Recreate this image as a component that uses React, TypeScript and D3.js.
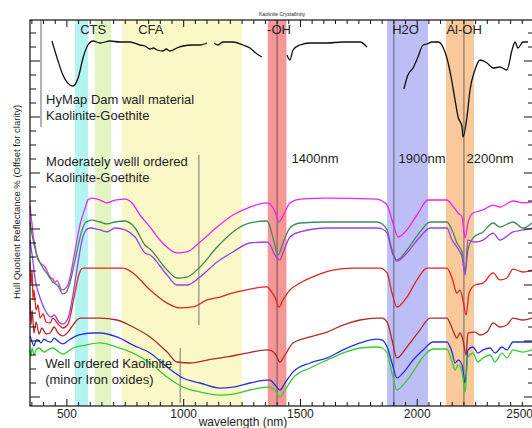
import React from 'react'
import * as d3 from 'd3'

// spectra: [wavelength nm, hull quotient (offset units)]
const magenta = [[342,13.7],[346,13.0],[351,12.3],[355,11.6],[363,10.9],[372,10.0],[385,9.6],[406,9.3],[428,8.57],[440,8.43],[449,8.2],[458,8.3],[479,7.64],[500,7.86],[513,8.5],[526,9.64],[543,11.2],[556,12.3],[578,13.5],[590,14.07],[607,14.2],[642,14.07],[672,13.86],[706,14.07],[749,14.14],[779,13.86],[813,13.0],[856,12.14],[899,11.2],[929,10.7],[971,10.29],[1014,10.36],[1070,11.07],[1143,12.14],[1211,13.0],[1284,13.57],[1357,13.86],[1378,13.64],[1395,13.07],[1408,12.5],[1425,12.93],[1455,13.86],[1498,14.14],[1614,14.21],[1828,14.14],[1850,14.0],[1871,13.71],[1896,12.43],[1918,11.43],[1948,11.79],[1999,13.0],[2046,14.07],[2127,14.07],[2149,13.71],[2175,13.14],[2192,12.86],[2205,11.36],[2217,12.43],[2239,13.14],[2282,13.36],[2325,13.71],[2354,13.57],[2410,14.0],[2453,13.86],[2491,13.93]]

const darkGreen = [[342,12.5],[351,11.57],[363,10.64],[376,9.93],[398,9.21],[419,8.71],[440,8.2],[453,8.07],[462,7.93],[483,7.36],[500,7.57],[513,8.14],[526,9.07],[548,10.79],[565,11.93],[582,12.5],[607,12.64],[642,12.5],[672,12.36],[706,12.5],[749,12.57],[792,12.07],[834,10.86],[856,10.57],[929,9.07],[971,8.5],[1014,8.57],[1070,9.29],[1143,10.71],[1211,11.79],[1284,12.43],[1357,12.57],[1382,11.43],[1404,10.14],[1425,11.0],[1455,12.07],[1498,12.43],[1614,12.5],[1828,12.5],[1850,12.36],[1871,11.93],[1892,10.5],[1913,9.79],[1956,10.5],[2012,11.79],[2055,12.5],[2127,12.5],[2149,11.93],[2170,11.0],[2192,10.36],[2205,8.93],[2217,10.5],[2239,11.36],[2282,11.79],[2325,12.43],[2354,12.14],[2410,12.5],[2453,12.07],[2491,12.43]]

const purple = [[342,11.21],[355,9.64],[363,8.5],[381,7.29],[393,6.71],[411,6.07],[432,5.71],[445,5.86],[466,5.36],[483,5.21],[505,5.64],[526,7.29],[539,8.71],[548,9.64],[565,11.21],[582,11.93],[599,12.07],[642,11.93],[672,11.79],[706,12.07],[749,11.93],[792,11.43],[834,10.29],[856,10.14],[929,8.71],[971,8.0],[1014,8.0],[1070,8.57],[1143,9.64],[1211,10.36],[1284,11.0],[1357,11.07],[1370,10.86],[1391,10.14],[1412,9.79],[1425,10.29],[1455,11.43],[1498,11.79],[1614,12.07],[1828,12.07],[1850,12.0],[1871,11.71],[1892,10.36],[1913,9.71],[1956,10.29],[2012,11.43],[2055,12.07],[2127,12.07],[2149,11.21],[2170,10.71],[2192,10.0],[2205,8.71],[2217,11.21],[2247,11.07],[2282,11.21],[2325,11.71],[2354,11.21],[2410,11.79],[2453,11.93],[2491,12.07]]

const red = [[342,9.64],[346,8.0],[351,9.07],[355,6.93],[359,7.64],[368,6.21],[376,6.57],[385,5.64],[398,5.93],[411,5.36],[428,5.29],[440,5.64],[462,5.21],[483,4.93],[505,5.21],[530,7.07],[552,8.79],[569,9.21],[642,9.21],[740,9.21],[783,8.86],[856,7.64],[929,6.71],[984,6.36],[1040,6.43],[1100,6.93],[1156,7.14],[1211,7.43],[1284,7.71],[1357,7.86],[1370,7.64],[1391,7.14],[1408,6.43],[1425,6.93],[1455,7.64],[1498,8.14],[1571,8.71],[1639,9.07],[1725,9.21],[1841,9.21],[1871,8.86],[1892,7.43],[1913,6.43],[1956,7.14],[1999,8.36],[2042,9.21],[2127,9.21],[2149,8.5],[2170,7.43],[2183,7.64],[2196,6.93],[2209,5.86],[2222,7.43],[2247,8.0],[2282,8.14],[2325,8.86],[2354,8.36],[2384,8.5],[2410,9.14],[2453,8.93],[2491,9.07]]

const darkRed = [[342,6.93],[346,5.14],[351,6.21],[359,4.57],[368,5.36],[381,4.5],[393,4.93],[411,4.5],[428,4.57],[445,5.0],[462,4.57],[483,4.36],[505,4.64],[526,5.14],[548,5.57],[560,5.64],[642,5.64],[714,5.5],[783,5.0],[856,4.29],[929,3.21],[971,2.5],[1027,2.43],[1100,2.64],[1185,2.86],[1271,3.14],[1357,3.36],[1378,3.29],[1395,3.0],[1412,2.5],[1434,3.0],[1468,3.86],[1541,4.29],[1614,4.64],[1682,5.14],[1755,5.5],[1828,5.64],[1850,5.64],[1871,5.36],[1892,4.07],[1913,2.79],[1956,3.57],[2012,4.79],[2055,5.64],[2127,5.64],[2149,4.93],[2170,4.21],[2183,4.57],[2196,4.07],[2209,3.0],[2217,4.57],[2247,4.64],[2269,4.43],[2299,4.64],[2325,5.29],[2354,5.0],[2384,5.14],[2410,5.64],[2453,5.5],[2491,5.64]]

const blue = [[342,4.36],[351,3.93],[359,3.64],[368,4.07],[376,4.07],[389,3.86],[402,4.14],[415,4.0],[432,3.93],[445,4.21],[466,3.93],[483,3.79],[509,4.07],[552,4.43],[612,4.57],[642,4.57],[714,4.29],[783,3.71],[856,3.14],[929,2.14],[997,1.36],[1070,1.0],[1156,0.64],[1211,0.71],[1284,1.0],[1357,1.21],[1370,1.21],[1391,0.86],[1412,0.5],[1434,1.0],[1468,1.79],[1541,2.43],[1614,2.79],[1682,3.36],[1755,3.86],[1828,4.14],[1850,4.07],[1871,3.57],[1892,2.43],[1913,1.36],[1939,1.71],[1982,2.64],[2025,3.36],[2068,3.93],[2127,3.93],[2149,3.21],[2162,2.43],[2175,2.64],[2192,2.29],[2205,1.0],[2217,3.36],[2239,3.57],[2260,3.14],[2282,3.36],[2312,3.5],[2333,3.14],[2363,3.57],[2384,3.36],[2410,3.93],[2453,3.93],[2491,3.93]]

const green = [[342,3.36],[346,2.93],[351,3.5],[359,3.0],[368,3.36],[381,3.5],[402,3.21],[419,3.36],[440,3.5],[466,3.21],[483,3.07],[526,3.5],[582,3.71],[642,3.86],[714,3.57],[783,3.14],[856,2.43],[929,1.43],[997,0.71],[1070,0.36],[1156,0.14],[1211,0.21],[1284,0.5],[1357,0.71],[1370,0.71],[1391,0.5],[1412,0.0],[1434,0.5],[1468,1.36],[1541,2.07],[1614,2.64],[1682,3.14],[1755,3.5],[1828,3.57],[1850,3.5],[1871,3.14],[1892,1.71],[1913,0.5],[1939,0.86],[1982,1.79],[2025,2.86],[2068,3.43],[2127,3.43],[2149,2.5],[2162,1.93],[2175,2.29],[2192,1.79],[2205,0.36],[2217,2.86],[2239,3.14],[2260,2.5],[2282,2.79],[2312,3.0],[2333,2.5],[2363,3.14],[2384,2.79],[2410,3.36],[2453,3.21],[2491,3.36]]

const spectra = [
    { name: 'magenta', color: '#ec24ec', values: magenta },
    { name: 'darkGreen', color: '#3f8c55', values: darkGreen },
    { name: 'purple', color: '#9b3fe6', values: purple },
    { name: 'red', color: '#e12424', values: red },
    { name: 'darkRed', color: '#b42828', values: darkRed },
    { name: 'blue', color: '#2434dc', values: blue },
    { name: 'green', color: '#35cc35', values: green },
]

// kaolinite crystallinity inset (own arbitrary scale 0-100), broken into segments
const crystallinity = [
    [[436,99],[458,82],[483,65],[513,55],[526,54],[548,62],[569,82],[590,95],[612,99],[642,97],[684,99],[727,98],[770,98],[813,95],[835,94],[856,91],[870,92],[886,90],[911,89],[925,91],[941,89],[971,92],[997,94],[1040,95],[1070,95],[1100,97]],
    [[1130,97],[1147,95],[1168,98],[1211,98],[1254,95],[1284,92],[1314,86],[1335,83]],
    [[1442,85],[1455,80],[1468,90],[1498,95],[1541,97],[1614,97],[1682,98],[1755,98],[1785,93]],
    [[1943,51],[1960,65],[1982,72],[2003,83],[2025,95],[2042,96],[2063,98],[2089,98],[2110,93],[2127,82],[2145,63],[2162,40],[2175,23],[2192,13],[2196,3],[2213,23],[2226,50],[2247,70],[2269,80],[2299,77],[2325,72],[2354,73],[2384,70],[2406,90],[2419,98],[2431,92],[2453,98],[2474,98]],
]

// absorption feature bands [from, to] nm
const bands = [
    { from: 535, to: 590, color: '#b2f4f1' },
    { from: 620, to: 690, color: '#e4f5c3' },
    { from: 736, to: 1250, color: '#fbf8c7' },
    { from: 1360, to: 1440, color: '#f69696' },
    { from: 1871, to: 2046, color: '#bebef6' },
    { from: 2123, to: 2243, color: '#f9c99b' },
]
const bandLines = [1400, 1900, 2200]
// short marker lines [nm, from value, to value]
const markerLines = [[1065, 17.29, 5.14], [985, 3.5, -0.43]]

const bandLabels = [
    { text: 'CTS', wl: 557 },
    { text: 'CFA', wl: 805 },
    { text: '-OH', wl: 1357 },
    { text: 'H2O', wl: 1893 },
    { text: 'Al-OH', wl: 2125 },
]
const featureLabels = [
    { text: '1400nm', wl: 1462 },
    { text: '1900nm', wl: 1920 },
    { text: '2200nm', wl: 2211 },
]
const notes = [
    { lines: ['HyMap Dam wall material', 'Kaolinite-Goethite'], wl: 411, v: 20.92 },
    { lines: ['Moderately welll ordered', 'Kaolinite-Goethite'], wl: 411, v: 16.5 },
    { lines: ['Well ordered Kaolinite', '(minor Iron oxides)'], wl: 407, v: 2.07 },
]
const xTickLabels = [500, 1000, 1500, 2000, 2500]

const font = "'Liberation Sans', Arial, sans-serif"
const ink = '#1e1e1e'

const App = () => {
    const width = 532
    const height = 428
    const left = 30
    const top = 20
    const bottom = 406

    const x = d3.scaleLinear().domain([342, 2500]).range([left, 534])
    const y = d3.scaleLinear().domain([-9 / 14, 377 / 14]).range([bottom, top])
    const c = d3.scaleLinear().domain([0, 100]).range([140, 40])

    const line = d3.line().x(d => x(d[0])).y(d => y(d[1])).curve(d3.curveMonotoneX)
    const cLine = d3.line().x(d => x(d[0])).y(d => c(d[1])).curve(d3.curveMonotoneX)

    const right = x(2500)
    const xTicks = d3.range(350, 2501, 50)
    const yTicks = d3.range(0, 27, 1)

    return (
        <svg width={width} height={height} style={{ position: 'absolute', left: 0, top: 0, background: '#fff' }}>
            {bands.map(b => (
                <rect key={b.from} x={x(b.from)} y={top} width={x(b.to) - x(b.from)} height={bottom - top} fill={b.color} />
            ))}
            {bandLines.map(w => (
                <line key={w} x1={x(w)} x2={x(w)} y1={top} y2={bottom} stroke='#4a4a4a' strokeWidth={0.8} />
            ))}
            {markerLines.map(m => (
                <line key={m[0]} x1={x(m[0])} x2={x(m[0])} y1={y(m[1])} y2={y(m[2])} stroke='#666' strokeWidth={0.9} />
            ))}
            <line x1={41} x2={41} y1={top} y2={127} stroke='#555' strokeWidth={0.9} />

            {crystallinity.map((seg, i) => (
                <path key={i} d={cLine(seg)} fill='none' stroke='#111' strokeWidth={1.3} />
            ))}
            {spectra.map(s => (
                <path key={s.name} d={line(s.values)} fill='none' stroke={s.color} strokeWidth={1.3} />
            ))}

            {/* frame */}
            <rect x={left} y={top} width={right - left} height={bottom - top} fill='none' stroke='#111' strokeWidth={1.2} />
            {xTicks.map(t => {
                const len = t % 500 === 0 ? 7 : 4
                return (
                    <g key={t} stroke='#111' strokeWidth={1}>
                        <line x1={x(t)} x2={x(t)} y1={bottom} y2={bottom - len} />
                        <line x1={x(t)} x2={x(t)} y1={top} y2={top + len} />
                    </g>
                )
            })}
            {yTicks.map(t => {
                const len = t % 4 === 0 ? 10 : 6
                return (
                    <g key={t} stroke='#111' strokeWidth={1}>
                        <line x1={left} x2={left + len} y1={y(t)} y2={y(t)} />
                        <line x1={right} x2={right - len} y1={y(t)} y2={y(t)} />
                    </g>
                )
            })}
            {xTickLabels.map(t => (
                <text key={t} x={t === 2500 ? 533 : x(t)} y={418} textAnchor={t === 2500 ? 'end' : 'middle'}
                    fontFamily={font} fontSize={12} fill={ink}>{t}</text>
            ))}
            <text x={243} y={426} textAnchor='middle' fontFamily={font} fontSize={12} fill={ink}>wavelength (nm)</text>
            <text transform='translate(20, 202) rotate(-90)' textAnchor='middle' fontFamily={font} fontSize={9.5} fill={ink}>
                Hull Quotient Reflectance % (Offset for clarity)
            </text>
            <text x={282} y={16} textAnchor='middle' fontFamily={font} fontSize={5} fill={ink}>Kaolinite Crystallinity</text>

            {bandLabels.map(l => (
                <text key={l.text} x={x(l.wl)} y={34} fontFamily={font} fontSize={13} fill={ink}>{l.text}</text>
            ))}
            {featureLabels.map(l => (
                <text key={l.text} x={x(l.wl)} y={163} fontFamily={font} fontSize={13} fill={ink}>{l.text}</text>
            ))}
            {notes.map(n => (
                <text key={n.lines[0]} x={x(n.wl)} y={y(n.v)} fontFamily={font} fontSize={13} fill={ink}>
                    {n.lines.map((ln, i) => (
                        <tspan key={i} x={x(n.wl)} dy={i === 0 ? 0 : 15.5}>{ln}</tspan>
                    ))}
                </text>
            ))}
        </svg>
    )
}

export default App
